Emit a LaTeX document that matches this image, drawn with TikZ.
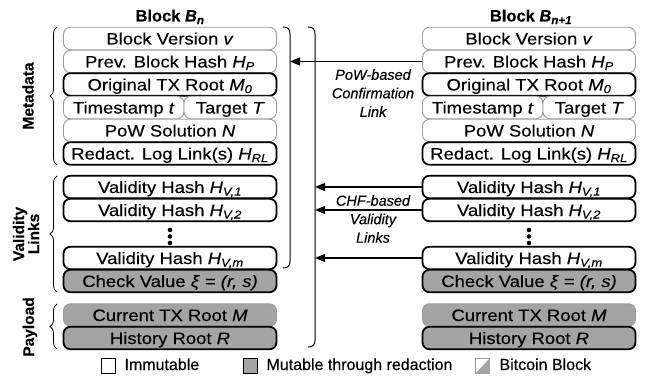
\documentclass[tikz,border=0pt]{standalone}
\usepackage{fontspec}
\usepackage{graphicx}
\setmainfont{Liberation Sans}[FakeBold=0.3]
\usetikzlibrary{arrows.meta,decorations.pathreplacing}

\definecolor{fieldgray}{HTML}{A4A4A4}
\definecolor{btcedge}{HTML}{9C9C9C}

% field captions are set slightly wide
\newcommand\fieldtext[1]{\scalebox{1.12}[1]{#1}}

\tikzset{
  field/.style={rectangle, rounded corners=7pt, minimum height=22.5pt,
    inner sep=0pt, text height=12pt, text depth=0pt,
    font=\fontsize{16.5}{18}\selectfont},
  btc/.style={field, draw=btcedge, line width=0.9pt, fill=white},
  own/.style={field, draw=black, line width=1.8pt, fill=white},
  btcmut/.style={field, draw=btcedge, line width=0.9pt, fill=fieldgray},
  ownmut/.style={field, draw=black, line width=1.8pt, fill=fieldgray},
  full/.style={minimum width=213pt},
  title/.style={anchor=base, font=\bfseries\fontsize{16.5}{18}\selectfont},
  sidelabel/.style={rotate=90, align=center, font=\bfseries\fontsize{15.5}{15}\selectfont},
  linklabel/.style={align=center, font=\itshape\fontsize{14.5}{18.5}\selectfont},
  leftbrace/.style={decorate, decoration={brace, amplitude=7pt}, line width=0.8pt},
  bar/.style={line width=1pt},
  link/.style={line width=1.2pt, -{Triangle[length=10pt,width=8pt]}},
  dotmark/.style={circle, fill=black, inner sep=0pt, minimum size=4.6pt},
  keybox/.style={rectangle, minimum width=14pt, minimum height=15pt, inner sep=0pt},
  keytext/.style={anchor=base west, font=\fontsize{16}{18}\selectfont},
}

% all fields of one block; #1 = name prefix, #2 = horizontal centre
\newcommand\blockfields[2]{%
  \node[btc, full] (#1ver)  at (#2, 38.5)  {\fieldtext{Block Version \textit{v}}};
  \node[btc, full] (#1prev) at (#2, 61.5)  {\fieldtext{Prev. Block Hash \textit{H\textsubscript{P}}}};
  \node[own, full] (#1orig) at (#2, 84.5)  {\fieldtext{Original TX Root \textit{M\textsubscript{0}}}};
  \node[btc, minimum width=120.5pt] (#1time) at (#2-46.25, 107.5) {\fieldtext{Timestamp \textit{t}}};
  \node[btc, minimum width=92.5pt]  (#1targ) at (#2+60.25, 107.5) {\fieldtext{Target \textit{T}}};
  \node[btc, full] (#1pow)  at (#2, 130.5) {\fieldtext{PoW Solution \textit{N}}};
  \node[own, full] (#1rll)  at (#2, 153.5) {\fieldtext{Redact. Log Link(s) \textit{H\textsubscript{RL}}}};
  \node[own, full] (#1va)   at (#2, 187)   {\fieldtext{Validity Hash \textit{H\textsubscript{V,1}}}};
  \node[own, full] (#1vb)   at (#2, 210)   {\fieldtext{Validity Hash \textit{H\textsubscript{V,2}}}};
  \node[dotmark] (#1dota) at (#2, 230) {};
  \node[dotmark] (#1dotb) at (#2, 236.5) {};
  \node[dotmark] (#1dotc) at (#2, 243) {};
  \node[own, full] (#1vm)   at (#2, 258)   {\fieldtext{Validity Hash \textit{H\textsubscript{V,m}}}};
  \node[ownmut, full] (#1chk) at (#2, 281) {\fieldtext{Check Value \textit{ξ} = \textit{(r, s)}}};
  \node[btcmut, full] (#1cur) at (#2, 315) {\fieldtext{Current TX Root \textit{M}}};
  \node[ownmut, full] (#1hist) at (#2, 338) {\fieldtext{History Root \textit{R}}};
}

\begin{document}
\begin{tikzpicture}[x=1pt, y=-1pt]
  \useasboundingbox (0,0) rectangle (651,377);

  % block titles
  \node[title] (Ltitle) at (170, 21.5) {Block \textit{B}\textsubscript{\textit{n}}};
  \node[title] (Rtitle) at (531, 21.5) {Block \textit{B}\textsubscript{\textit{n+1}}};

  % the two blocks
  \blockfields{L}{170}
  \blockfields{R}{529}

  % section braces and labels on the left
  \draw[leftbrace] (57,165) -- (57,27);
  \draw[leftbrace] (57,292) -- (57,176);
  \draw[leftbrace] (57,349) -- (57,304);
  \node[sidelabel] (metalabel) at (28, 96) {Metadata};
  \node[sidelabel] (validlabel) at (26, 234) {Validity\\Links};
  \node[sidelabel] (paylabel) at (30, 327) {Payload};

  % brackets gathering the linked parts of block n
  \draw[bar] (283,27) .. controls (288,27) and (290,29) .. (290,34)
    -- (290,261) .. controls (290,266) and (288,268) .. (283,268);
  \draw[bar] (308,27) .. controls (313,27) and (315,29) .. (315,34)
    -- (315,340) .. controls (315,345) and (313,347) .. (308,347);
  \coordinate (innerbar) at (290,27);
  \coordinate (outerbar) at (315,27);

  % links from block n+1 back to block n
  \draw[link] (Rprev.west) -- (Rprev.west -| innerbar);
  \draw[link] (Rva.west) -- (Rva.west -| outerbar);
  \draw[link] (Rvb.west) -- (Rvb.west -| outerbar);
  \draw[link] (Rvm.west) -- (Rvm.west -| outerbar);
  \node[linklabel] (powlabel) at (373, 93) {PoW-based\\Confirmation\\Link};
  \node[linklabel] (chflabel) at (373, 219) {CHF-based\\Validity\\Links};

  % legend
  \node[keybox, draw=black, line width=1.8pt, fill=white] (keyimm) at (108.5, 366) {};
  \node[keytext] (keyimmtext) at (121, 370) {Immutable};
  \node[keybox, draw=black, line width=1.8pt, fill=fieldgray] (keymut) at (250.5, 366) {};
  \node[keytext] (keymuttext) at (263, 370) {Mutable through redaction};
  \node[keybox, draw=btcedge, line width=0.9pt, fill=white] (keybtc) at (482.5, 366) {};
  \fill[fieldgray] (keybtc.south west) -- (keybtc.north east) -- (keybtc.south east) -- cycle;
  \node[keytext] (keybtctext) at (496, 370) {Bitcoin Block};
\end{tikzpicture}
\end{document}
